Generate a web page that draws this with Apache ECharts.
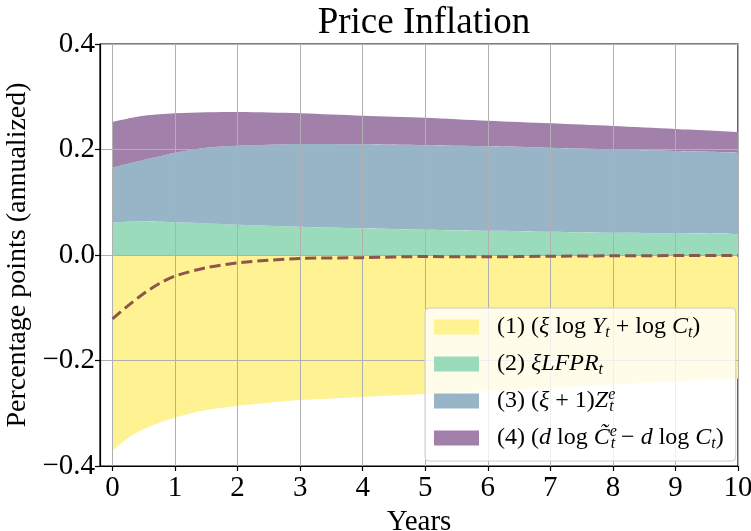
<!DOCTYPE html>
<html><head><meta charset="utf-8">
<script src="https://cdn.jsdelivr.net/npm/echarts@6/dist/echarts.min.js"></script>
<style>html,body{margin:0;padding:0;background:#fff}#c{width:751px;height:531px}</style>
</head><body><div id="c"></div>
<script>
// ---- data ----
const years = [0, 0.25, 0.5, 0.75, 1, 1.5, 2, 2.5, 3, 4, 5, 6, 7, 8, 9, 10];
const outputCons = [-0.371, -0.347, -0.330, -0.318, -0.308, -0.294, -0.286, -0.280, -0.275, -0.269, -0.2635, -0.258, -0.252, -0.246, -0.240, -0.234];
const lfpr = [0.0613, 0.063, 0.0638, 0.063, 0.0619, 0.0598, 0.0575, 0.0555, 0.0537, 0.0506, 0.048, 0.0461, 0.0442, 0.0423, 0.0411, 0.0398];
const zExp = [0.1043, 0.110, 0.1162, 0.124, 0.1321, 0.1437, 0.1498, 0.1537, 0.1567, 0.1592, 0.160, 0.1599, 0.1593, 0.158, 0.1559, 0.1542];
const consGap = [0.0871, 0.086, 0.084, 0.0798, 0.0746, 0.067, 0.0638, 0.061, 0.0582, 0.0542, 0.0523, 0.0486, 0.0461, 0.0442, 0.0419, 0.0392];
const total = [-0.121, -0.096, -0.073, -0.054, -0.040, -0.024, -0.015, -0.010, -0.0065, -0.005, -0.003, -0.0034, -0.0024, -0.0015, -0.0011, -0.0008];
const xTicks = [0, 1, 2, 3, 4, 5, 6, 7, 8, 9, 10];
const seriesNames = ['(1)', '(2)', '(3)', '(4)'];
const legendLabels = [
  '(1) ({i|ξ} log {i|Y}{sub|t} + log {i|C}{sub|t})',
  '(2) {i|ξLFPR}{sub|t}',
  '(3) ({i|ξ} + 1){i|Z}{sup|e}{sub|t}',
  '(4) ({i|d} log {i|C̃}{sup|e}{sub|t} − {i|d} log {i|C}{sub|t})'
];
const colors = ['#fef292', '#9adbbc', '#98b4c7', '#a180a9'];

const F = 'Liberation Serif';
const chart = echarts.init(document.getElementById('c'), null, {renderer: 'canvas'});

// value first, year second, so the library stacks on the value dimension
function pts(vals) { return years.map((x, i) => [vals[i], x]); }
function area(idx, vals) {
  return {
    name: seriesNames[idx], type: 'line', stack: 'decomp', data: pts(vals),
    encode: {x: 1, y: 0},
    smooth: 0.3, symbol: 'none', lineStyle: {width: 0},
    itemStyle: {color: colors[idx]}, areaStyle: {color: colors[idx], opacity: 1}, z: 2
  };
}

const option = {
  animation: false,
  backgroundColor: '#fff',
  title: {
    text: 'Price Inflation', left: 419, top: 0, textAlign: 'center',
    textStyle: {fontFamily: F, fontSize: 37, fontWeight: 'normal', color: '#000'}
  },
  grid: {left: 100, right: 13, top: 44, bottom: 65, outerBoundsMode: 'none', containLabel: false,
    show: true, borderColor: '#000', borderWidth: 1.2, backgroundColor: 'transparent'},
  xAxis: {
    type: 'value', min: -0.2, max: 10, z: 3,
    name: 'Years', nameLocation: 'middle', nameGap: 37,
    nameTextStyle: {fontFamily: F, fontSize: 29, color: '#000'},
    axisLine: {show: true, onZero: false, lineStyle: {color: '#000', width: 1.2}},
    axisTick: {show: true, inside: false, length: 5, lineStyle: {color: '#000', width: 1.2}, customValues: xTicks},
    axisLabel: {fontFamily: F, fontSize: 29, color: '#000', margin: 8, customValues: xTicks, formatter: v => String(v)},
    splitLine: {show: true, lineStyle: {color: '#b0b0b0', width: 1}}
  },
  yAxis: {
    type: 'value', min: -0.4, max: 0.4, interval: 0.2, z: 3,
    name: 'Percentage points (annualized)', nameLocation: 'middle', nameGap: 60, nameRotate: 90,
    nameTextStyle: {fontFamily: F, fontSize: 28, color: '#000'},
    axisLine: {show: true, onZero: false, lineStyle: {color: '#000', width: 1.2}},
    axisTick: {show: true, inside: false, length: 5, lineStyle: {color: '#000', width: 1.2}},
    axisLabel: {fontFamily: F, fontSize: 29, color: '#000', margin: 5,
      formatter: v => (v < -1e-9 ? '\u2212' : '') + Math.abs(v).toFixed(1)},
    splitLine: {show: true, lineStyle: {color: '#b0b0b0', width: 1}}
  },
  legend: {
    data: seriesNames, orient: 'vertical', left: 425, top: 308,
    icon: 'rect', itemWidth: 45, itemHeight: 15, itemGap: 9,
    padding: [5, 12, 9, 9], backgroundColor: 'rgba(255,255,255,0.8)',
    borderColor: '#cccccc', borderWidth: 1, borderRadius: 4, selectedMode: false,
    formatter: n => legendLabels[seriesNames.indexOf(n)],
    textStyle: {
      fontFamily: F, fontSize: 24, color: '#000', lineHeight: 26, padding: [0, 0, 0, 13],
      rich: {
        i: {fontFamily: F, fontSize: 24, fontStyle: 'italic', color: '#000', lineHeight: 26},
        sub: {fontFamily: F, fontSize: 16, fontStyle: 'italic', color: '#000', lineHeight: 26, padding: [12, 0, 0, 0]},
        sup: {fontFamily: F, fontSize: 16, fontStyle: 'italic', color: '#000', lineHeight: 26, padding: [0, 0, 12, 0], width: 1}
      }
    }
  },
  series: [
    area(0, outputCons),
    area(1, lfpr),
    area(2, zExp),
    area(3, consGap),
    {
      name: 'total', type: 'line', data: pts(total), encode: {x: 1, y: 0},
      smooth: 0.3, symbol: 'none', z: 5,
      lineStyle: {color: '#8c564b', width: 3, type: [11, 5]}, itemStyle: {color: '#8c564b'}
    }
  ]
};
chart.setOption(option);
</script>
</body></html>
